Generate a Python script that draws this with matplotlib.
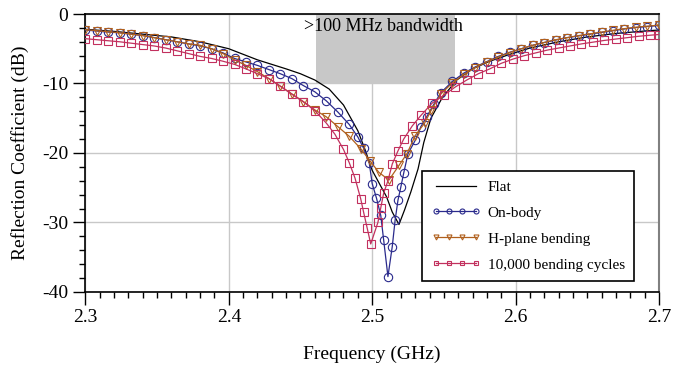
import matplotlib
matplotlib.use("Agg")
import matplotlib.pyplot as plt
from matplotlib.ticker import MultipleLocator, FormatStrFormatter

plt.rcParams["font.family"] = ["Liberation Serif", "DejaVu Serif"]
plt.rcParams["axes.unicode_minus"] = False

# Flat (no markers)
flat_f = [2.30, 2.32, 2.34, 2.36, 2.38, 2.40, 2.42, 2.44, 2.45, 2.46, 2.47, 2.48,
          2.49, 2.495, 2.50, 2.505, 2.51, 2.514, 2.5187, 2.5226, 2.527, 2.532,
          2.536, 2.541, 2.549, 2.559, 2.570, 2.582, 2.596, 2.61, 2.63, 2.65,
          2.67, 2.69, 2.70]
flat_db = [-2.2, -2.5, -2.9, -3.3, -4.0, -5.0, -6.6, -7.9, -8.6, -9.5, -10.8, -13.1,
           -16.8, -19.5, -22.5, -24.4, -26.3, -28.5, -30.3, -28.2, -25.6, -22.3,
           -18.5, -15.0, -12.0, -9.5, -7.9, -6.8, -5.8, -4.9, -4.0, -3.3,
           -2.8, -2.45, -2.3]

# On-body
onbody_f = [2.300, 2.308, 2.316, 2.324, 2.332, 2.340, 2.348, 2.356, 2.364, 2.372,
            2.380, 2.388, 2.396, 2.404, 2.412, 2.420, 2.428, 2.436, 2.444, 2.452,
            2.460, 2.468, 2.476, 2.484, 2.490, 2.494, 2.498, 2.500, 2.503, 2.506,
            2.508, 2.511, 2.514, 2.516, 2.518, 2.520, 2.522, 2.525, 2.530, 2.534,
            2.538, 2.543, 2.548, 2.556, 2.564, 2.572, 2.580, 2.588, 2.596, 2.604,
            2.612, 2.620, 2.628, 2.636, 2.644, 2.652, 2.660, 2.668, 2.676, 2.684,
            2.692, 2.700]
onbody_db = [-2.3, -2.45, -2.6, -2.7, -2.9, -3.1, -3.4, -3.7, -4.0, -4.3,
             -4.6, -5.0, -5.6, -6.4, -6.9, -7.4, -8.0, -8.6, -9.3, -10.3,
             -11.2, -12.5, -14.1, -15.9, -17.7, -19.3, -21.5, -24.4, -26.5, -29.0,
             -32.5, -37.8, -33.5, -29.7, -26.8, -24.9, -22.9, -20.1, -18.2, -16.2,
             -14.8, -13.0, -11.3, -9.7, -8.5, -7.6, -6.85, -6.1, -5.5, -5.0,
             -4.5, -4.1, -3.75, -3.4, -3.15, -2.9, -2.65, -2.4, -2.15, -1.95,
             -1.8, -1.65]

# H-plane bending
hplane_f = [2.300, 2.308, 2.316, 2.324, 2.332, 2.340, 2.348, 2.356, 2.364, 2.372,
            2.380, 2.388, 2.396, 2.404, 2.412, 2.420, 2.428, 2.436, 2.444, 2.452,
            2.460, 2.468, 2.476, 2.484, 2.4925, 2.4987, 2.5047, 2.5117, 2.519, 2.5243,
            2.5300, 2.5366, 2.5413, 2.548, 2.556, 2.564, 2.572, 2.580, 2.588, 2.596,
            2.604, 2.612, 2.620, 2.628, 2.636, 2.644, 2.652, 2.660, 2.668, 2.676,
            2.684, 2.692, 2.700]
hplane_db = [-2.25, -2.4, -2.55, -2.7, -2.9, -3.1, -3.4, -3.7, -4.0, -4.3,
             -4.5, -5.0, -5.7, -6.6, -7.4, -8.3, -9.3, -10.4, -11.5, -12.6,
             -13.8, -14.8, -16.2, -17.6, -19.5, -21.2, -22.8, -23.9, -21.7, -20.1,
             -17.5, -15.7, -13.8, -11.5, -9.9, -8.7, -7.7, -6.9, -6.2, -5.55,
             -5.0, -4.5, -4.1, -3.7, -3.4, -3.1, -2.85, -2.6, -2.35, -2.1,
             -1.9, -1.75, -1.6]

# 10,000 bending cycles
cycles_f = [2.300, 2.308, 2.316, 2.324, 2.332, 2.340, 2.348, 2.356, 2.364, 2.372,
            2.380, 2.388, 2.396, 2.404, 2.412, 2.420, 2.428, 2.436, 2.444, 2.452,
            2.460, 2.468, 2.474, 2.480, 2.484, 2.488, 2.492, 2.494, 2.4965, 2.499,
            2.504, 2.506, 2.508, 2.511, 2.514, 2.518, 2.522, 2.528, 2.534, 2.542,
            2.550, 2.558, 2.566, 2.574, 2.582, 2.590, 2.598, 2.606, 2.614, 2.622,
            2.630, 2.638, 2.646, 2.654, 2.662, 2.670, 2.678, 2.686, 2.694, 2.700]
cycles_db = [-3.55, -3.7, -3.85, -4.0, -4.2, -4.4, -4.6, -4.9, -5.3, -5.7,
             -6.1, -6.4, -6.8, -7.25, -7.9, -8.6, -9.3, -10.4, -11.55, -12.65,
             -13.9, -15.7, -17.3, -19.5, -21.4, -23.6, -26.6, -28.5, -30.8, -33.1,
             -30.0, -27.9, -25.8, -24.0, -21.6, -19.7, -18.0, -16.1, -14.6, -12.8,
             -11.7, -10.5, -9.5, -8.6, -7.9, -7.1, -6.5, -6.0, -5.6, -5.2,
             -4.9, -4.6, -4.3, -4.05, -3.8, -3.6, -3.4, -3.2, -3.05, -2.95]

band_lo, band_hi = 2.4605, 2.5575
band_top, band_bottom = 0, -10

fig = plt.figure(figsize=(6.73, 3.69), dpi=100)
ax = fig.add_axes([0.127, 0.209, 0.852, 0.753])

ax.fill_between([band_lo, band_hi], band_bottom, band_top, color="#c8c8c8", lw=0, zorder=1)
ax.text((band_lo + band_hi) / 2 - 0.001, -1.8, ">100 MHz bandwidth", ha="center", va="center",
        fontsize=13, zorder=5)

ax.plot(flat_f, flat_db, color="black", lw=0.9, label="Flat", zorder=3)
ax.plot(onbody_f, onbody_db, color="#2a2a8c", lw=0.9, marker="o", ms=6,
        mfc="none", mew=0.8, label="On-body", zorder=4)
ax.plot(hplane_f, hplane_db, color="#b0601e", lw=0.9, marker="v", ms=6,
        mfc="none", mew=0.8, label="H-plane bending", zorder=4)
ax.plot(cycles_f, cycles_db, color="#c2305e", lw=0.9, marker="s", ms=5.5,
        mfc="none", mew=0.8, label="10,000 bending cycles", zorder=4)

ax.set_xlim(2.3, 2.7)
ax.set_ylim(-40, 0)
ax.xaxis.set_major_locator(MultipleLocator(0.1))
ax.xaxis.set_minor_locator(MultipleLocator(0.01))
ax.yaxis.set_major_locator(MultipleLocator(10))
ax.yaxis.set_minor_locator(MultipleLocator(2))
ax.xaxis.set_major_formatter(FormatStrFormatter("%.1f"))
ax.tick_params(which="major", length=9, width=1, labelsize=14, direction="out")
ax.tick_params(which="minor", length=4.5, width=1, direction="out")
ax.grid(True, which="major", color="#c8c8c8", lw=1, zorder=0)
ax.set_axisbelow(True)
for s in ["left", "bottom", "top"]:
    ax.spines[s].set_linewidth(1.2)
ax.spines["right"].set_color("#808080")
ax.spines["right"].set_linewidth(1.5)

ax.set_xlabel("Frequency (GHz)", fontsize=14, labelpad=14)
ax.set_ylabel("Reflection Coefficient (dB)", fontsize=14, labelpad=9)

leg = ax.legend(loc="lower left", bbox_to_anchor=(0.587, 0.04), borderaxespad=0,
                fontsize=11, numpoints=4, markerscale=0.6, handlelength=3.2,
                handletextpad=0.5, borderpad=0.6, labelspacing=0.8,
                fancybox=False, edgecolor="black", framealpha=1)
leg.get_frame().set_linewidth(1.2)

fig.savefig("out.png", dpi=100)
